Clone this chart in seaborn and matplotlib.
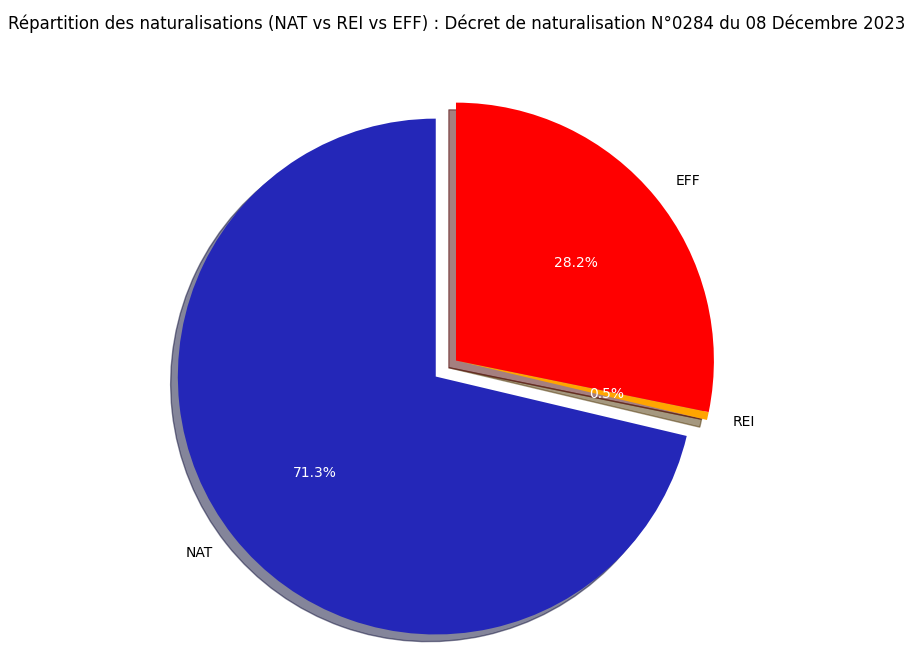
import matplotlib
matplotlib.use("Agg")
import matplotlib.pyplot as plt
import seaborn as sns

# Données du décret
categories = ["NAT", "REI", "EFF"]
valeurs = [71.3, 0.5, 28.2]
couleurs = ["#2427b8", "#ffa500", "#ff0000"]
eclatement = [0.1, 0, 0]

sns.reset_orig()
plt.rcParams['font.family'] = ['DejaVu Sans']

fig = plt.figure(figsize=(9.16, 6.68), dpi=100)
# axe placé pour centrer le camembert comme l'original
ax = fig.add_axes([0.1585, -0.005, 0.6786, 0.9305])
wedges, textes, pourcents = ax.pie(valeurs, labels=categories, colors=couleurs,
                                   explode=eclatement, autopct='%1.1f%%',
                                   shadow=True, startangle=90)
for t in pourcents:
    t.set_color('white')
ax.set_xlim(-1.205, 1.205)
ax.set_ylim(-1.205, 1.205)
ax.set_aspect('equal')
fig.suptitle('Répartition des naturalisations (NAT vs REI vs EFF) : Décret de naturalisation N°0284 du 08 Décembre 2023',
             fontsize=12, x=0.4983, y=1 - 24 / 668, va='center')

plt.savefig('out.png', dpi=100)
